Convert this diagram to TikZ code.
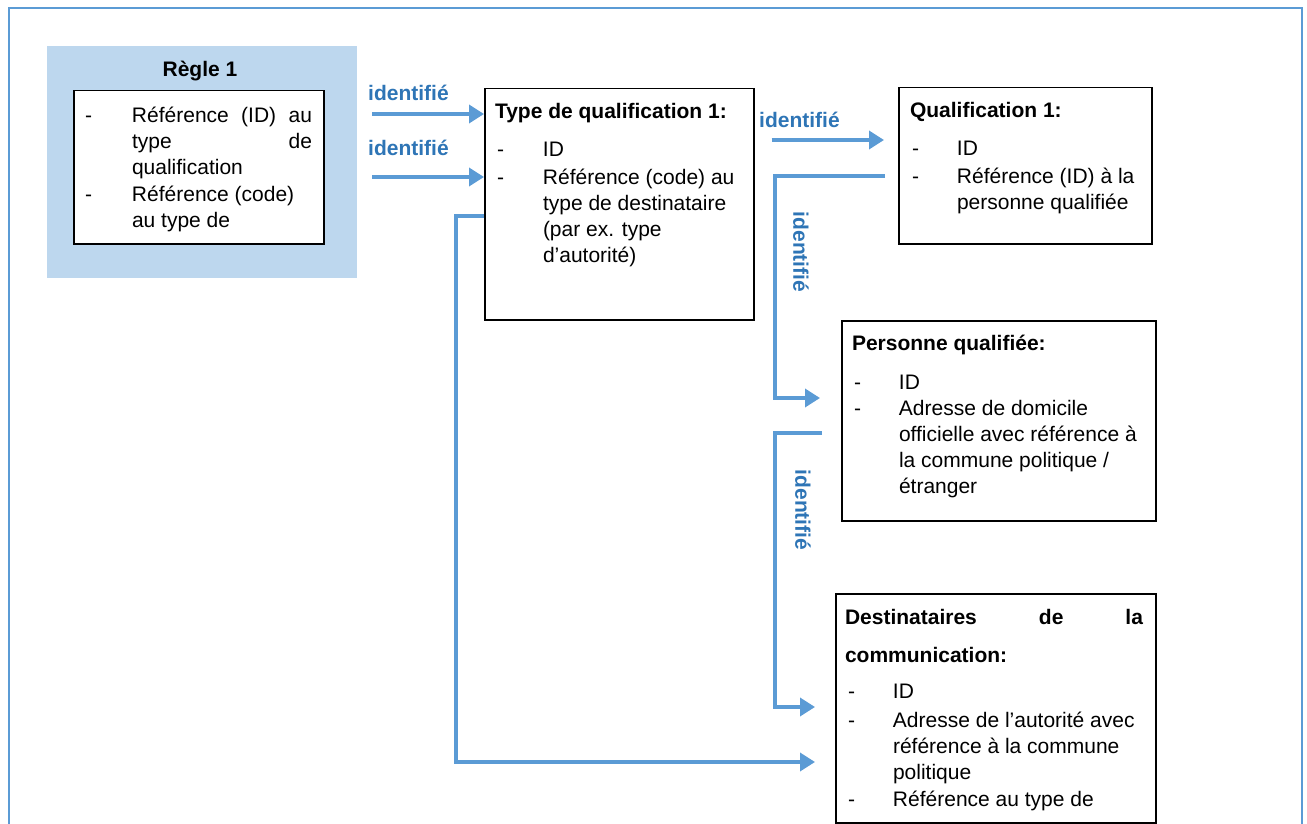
\documentclass[tikz,border=0pt]{standalone}
\usepackage{fontspec}
\setmainfont{Liberation Sans}
\usetikzlibrary{arrows.meta,calc}
\definecolor{linkblue}{HTML}{5B9BD5}
\definecolor{labelblue}{HTML}{2E75B6}
\definecolor{rulefill}{HTML}{BDD7EE}
\newcommand{\bodyfont}{\fontsize{21}{26}\selectfont}
\tikzset{
  entity/.style={draw=black, line width=1.5pt, fill=white, inner sep=0pt, anchor=north west},
  shade/.style={fill=rulefill, draw=none, inner sep=0pt, anchor=north west},
  txt/.style={inner sep=0pt, outer sep=0pt, anchor=base west, font=\bodyfont},
  head/.style={txt, font=\bodyfont\bfseries},
  link/.style={draw=linkblue, line width=3.5pt, -{Triangle[length=15pt,width=18pt]}},
  linklabel/.style={inner sep=0pt, font=\bodyfont\bfseries, text=labelblue},
  frame/.style={draw=linkblue, line width=2.5pt}
}
\begin{document}
\begin{tikzpicture}[x=1pt, y=-1pt]
\useasboundingbox (0,0) rectangle (1307,824);
\fill[white] (0,0) rectangle (1307,824);
\clip (0,0) rectangle (1307,824);

% outer frame (open at the bottom edge of the page)
\draw[frame] (9,8) rectangle (1302,860);

% rule block
\node[shade, minimum width=310pt, minimum height=232pt] (rule) at (47,46) {};
\node[head, anchor=base] (rule-title) at (200,77) {Règle 1};
\node[entity, minimum width=250pt, minimum height=153pt] (rule-inner) at (73,90) {};
\node[txt] (rule-list) at (85,123) {\begin{tabular}[t]{@{}p{47pt}@{}l@{}}
-& \makebox[180pt][s]{Référence (ID) au}\\
 & \makebox[180pt][s]{type de}\\
 & qualification\\[1pt]
-& Référence (code)\\
 & au type de
\end{tabular}};

% qualification type
\node[entity, minimum width=269pt, minimum height=231pt] (typeq) at (484,88) {};
\node[head] (typeq-title) at (495,119) {Type de qualification 1:};
\node[txt] (typeq-list) at (497,157) {\begin{tabular}[t]{@{}p{46pt}@{}l@{}}
-& ID\\[2pt]
-& Référence (code) au\\
 & type de destinataire\\
 & (par ex. type\\
 & d’autorité)
\end{tabular}};

% qualification
\node[entity, minimum width=253pt, minimum height=156pt] (qual) at (898,87) {};
\node[head] (qual-title) at (910,118) {Qualification 1:};
\node[txt] (qual-list) at (912,156) {\begin{tabular}[t]{@{}p{45pt}@{}l@{}}
-& ID\\[2pt]
-& Référence (ID) à la\\
 & personne qualifiée
\end{tabular}};

% qualified person
\node[entity, minimum width=314pt, minimum height=200pt] (pers) at (841,320) {};
\node[head] (pers-title) at (852,350) {Personne qualifiée:};
\node[txt] (pers-list) at (854,389) {\begin{tabular}[t]{@{}p{45pt}@{}l@{}}
-& ID\\
-& Adresse de domicile\\
 & officielle avec référence à\\
 & la commune politique /\\
 & étranger
\end{tabular}};

% recipients
\node[entity, minimum width=320pt, minimum height=229pt] (dest) at (835,593) {};
\node[head] (dest-title) at (845,624) {\begin{tabular}[t]{@{}l@{}}
\makebox[298pt][s]{Destinataires de la}\\[12pt]
communication:
\end{tabular}};
\node[txt] (dest-list) at (848,698) {\begin{tabular}[t]{@{}p{45pt}@{}l@{}}
-& ID\\[3pt]
-& Adresse de l’autorité avec\\
 & référence à la commune\\
 & politique\\[1pt]
-& Référence au type de
\end{tabular}};

% connector ends
\coordinate (r2t-a) at (372,114);
\coordinate (r2t-b) at (372,177);
\coordinate (t2q-s) at ($(typeq.north east)+(17,52)$);
\coordinate (t2q-e) at ($(qual.north west)+(-14,53)$);
\coordinate (q2p-s) at ($(qual.north west)+(-13,89)$);
\coordinate (q2p-e) at ($(pers.north west)+(-21,78)$);
\coordinate (p2d-s) at ($(pers.north west)+(-19,113)$);
\coordinate (p2d-e) at ($(dest.north west)+(-20,114)$);
\coordinate (t2d-s) at ($(typeq.north west)+(0,128)$);
\coordinate (t2d-e) at ($(dest.north west)+(-20,169)$);

% connectors
\draw[link] (r2t-a) -- (r2t-a -| typeq.west);
\draw[link] (r2t-b) -- (r2t-b -| typeq.west);
\draw[link] (t2q-s) -- (t2q-e);
\draw[link] (q2p-s) -- ++(-110,0) |- (q2p-e);
\draw[link] (p2d-s) -- ++(-47,0) |- (p2d-e);
\draw[link] (t2d-s) -- ++(-28,0) |- (t2d-e);

% connector labels
\node[linklabel, anchor=base west] (lab-a) at (368,101) {identifié};
\node[linklabel, anchor=base west] (lab-b) at (368,156) {identifié};
\node[linklabel, anchor=base west] (lab-c) at (759,128) {identifié};
\node[linklabel, rotate=-90] (lab-d) at (801,252) {identifié};
\node[linklabel, rotate=-90] (lab-e) at (803,510) {identifié};
\end{tikzpicture}
\end{document}
